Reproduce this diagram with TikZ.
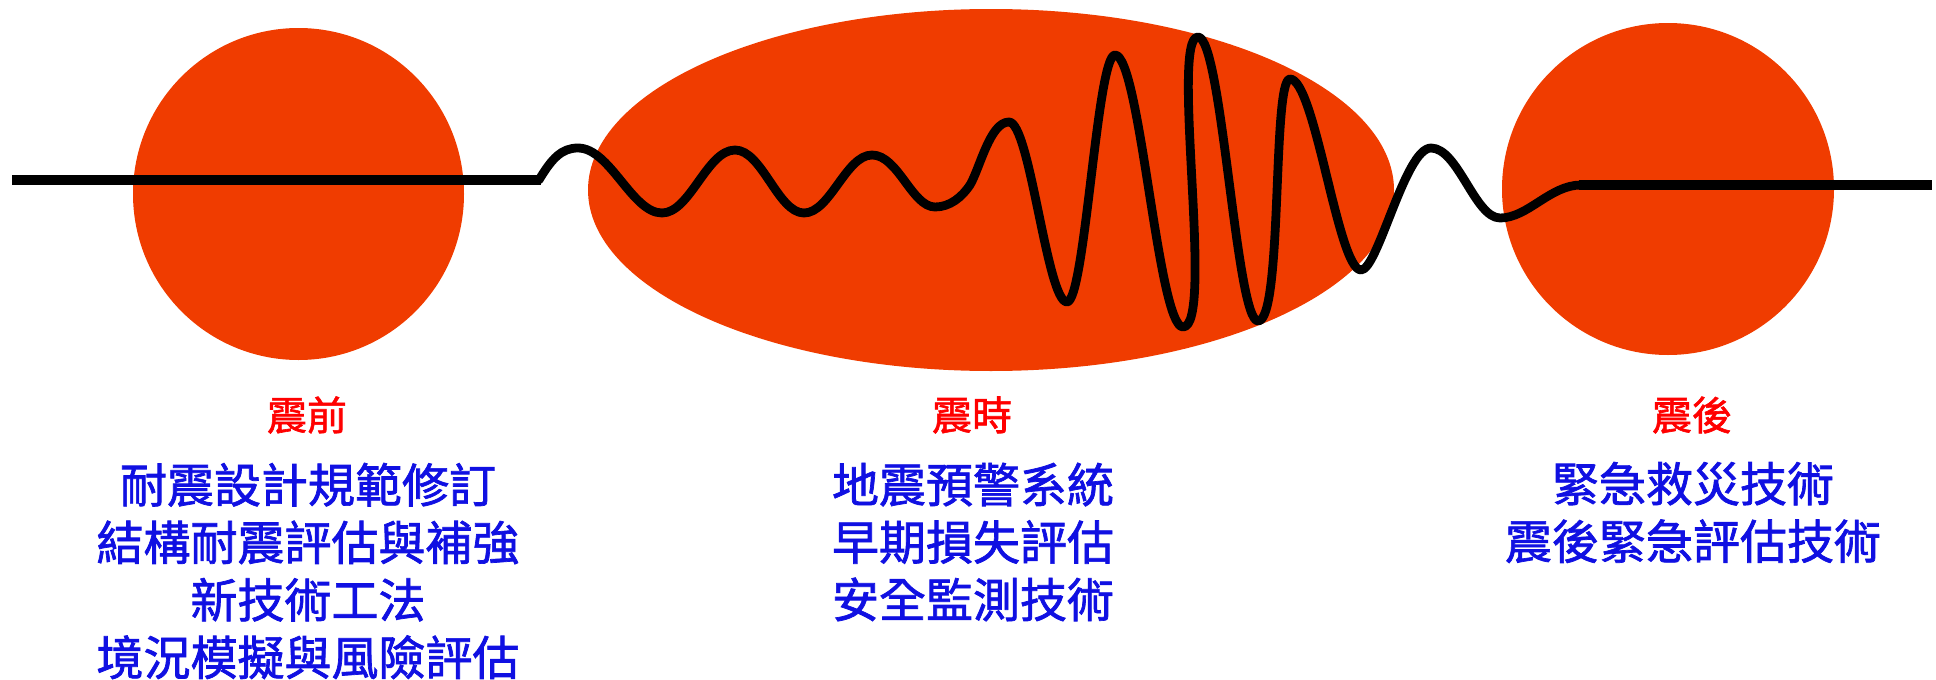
\documentclass[tikz,border=0pt]{standalone}
\usepackage{fontspec}
\newfontfamily\cjk[FakeBold=1.5]{Noto Sans CJK TC}
\definecolor{quakefill}{RGB}{240,60,0}
\definecolor{phasered}{RGB}{255,0,0}
\definecolor{itemblue}{RGB}{16,16,226}
\begin{document}
\begin{tikzpicture}[x=1pt,y=-1pt,
  blob/.style={fill=quakefill},
  flatline/.style={line width=10.5pt,line cap=butt,black},
  waveline/.style={line width=8.8pt,line cap=round,line join=round,black},
  phase/.style={inner sep=0pt,text=phasered,font=\cjk\fontsize{40}{48}\selectfont},
  items/.style={inner sep=0pt,text=itemblue,align=center,font=\cjk\fontsize{47}{57.5}\selectfont}]
\useasboundingbox (0,0) rectangle (1936,680);
% three phases
\fill[blob] (298.5,194) ellipse [x radius=165.5pt, y radius=166pt];
\fill[blob] (991,190) ellipse [x radius=403pt, y radius=181pt];
\fill[blob] (1668,189) ellipse [x radius=166pt, y radius=166pt];
% seismic trace
\draw[flatline] (12,180) -- (541,180);
\draw[waveline] (539,180) .. controls (552,158) and (562,148) .. (578,148)
 .. controls (610,148) and (632,213) .. (662,213)
 .. controls (690,213) and (707,150) .. (735,150)
 .. controls (762,150) and (778,213) .. (804,213)
 .. controls (830,213) and (846,155) .. (872,155)
 .. controls (898,155) and (912,207) .. (935,207)
 .. controls (950,207) and (962,197) .. (970,185)
 .. controls (980,168) and (990,122) .. (1009,122)
 .. controls (1030,122) and (1047,302) .. (1067,302)
 .. controls (1085,302) and (1097,55) .. (1115,55)
 .. controls (1140,55) and (1158,327) .. (1183,327)
 .. controls (1215,327) and (1170,37) .. (1198,37)
 .. controls (1222,37) and (1236,321) .. (1258,321)
 .. controls (1283,321) and (1272,79) .. (1290,79)
 .. controls (1315,79) and (1338,270) .. (1361,270)
 .. controls (1378,270) and (1405,148) .. (1431,148)
 .. controls (1458,148) and (1475,218) .. (1500,218)
 .. controls (1528,218) and (1550,185) .. (1581,185);
\draw[flatline] (1579,185) -- (1932,185);
% labels
\node[phase] (before) at (307,415) {震前};
\node[phase] (during) at (972,415) {震時};
\node[phase] (after) at (1692,415) {震後};
\node[items] (beforeitems) at (308,571) {耐震設計規範修訂\\結構耐震評估與補強\\新技術工法\\境況模擬與風險評估};
\node[items] (duringitems) at (973,542) {地震預警系統\\早期損失評估\\安全監測技術};
\node[items] (afteritems) at (1693,512.5) {緊急救災技術\\震後緊急評估技術};
\end{tikzpicture}
\end{document}
